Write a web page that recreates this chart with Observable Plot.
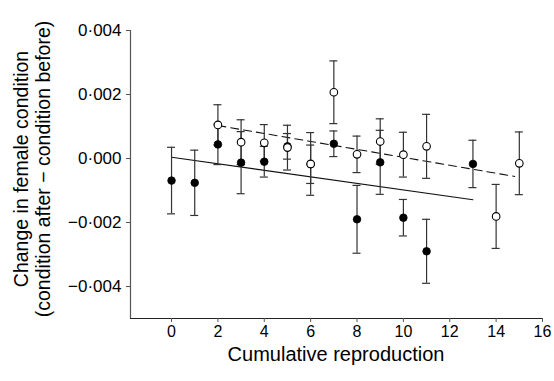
<!DOCTYPE html>
<html>
<head>
<meta charset="utf-8">
<script src="https://cdn.jsdelivr.net/npm/d3@7"></script>
<script src="https://cdn.jsdelivr.net/npm/@observablehq/plot@0.6"></script>
<style>
  html, body { margin: 0; padding: 0; background: #fff; }
  #chart svg { display: block; }
</style>
</head>
<body>
<div id="chart"></div>
<script>
// Filled circles (series 1)
const filledX  = [0, 1, 2, 3, 4, 5, 6, 7, 8, 9, 10, 11, 13];
const filledY  = [-0.00069, -0.00076, 0.00044, -0.00013, -0.00010, 0.00038, -0.00018, 0.00046, -0.00190, -0.00012, -0.00185, -0.00290, -0.00017];
const filledSE = [0.00104, 0.00102, 0.00063, 0.00097, 0.00048, 0.00040, 0.00060, 0.00040, 0.00106, 0.00100, 0.00057, 0.00100, 0.00074];

// Open circles (series 2)
const openX  = [2, 3, 4, 5, 6, 7, 8, 9, 10, 11, 14, 15];
const openY  = [0.00105, 0.00051, 0.00049, 0.00034, -0.00017, 0.00207, 0.00013, 0.00053, 0.00012, 0.00038, -0.00181, -0.00015];
const openSE = [0.00063, 0.00070, 0.00057, 0.00070, 0.00098, 0.00098, 0.00057, 0.00071, 0.00070, 0.00100, 0.00100, 0.00098];

// Regression lines (end points)
const solidX = [0, 13];
const solidY = [0.00004, -0.00129];
const dashX  = [2, 14.8];
const dashY  = [0.00103, -0.00056];

// Axes
const xTicks = [0, 2, 4, 6, 8, 10, 12, 14, 16];
const yTicks = [-0.004, -0.002, 0, 0.002, 0.004];
const xDomain = [-1.77, 16];
const yDomain = [-0.005, 0.004];
const xTitle = "Cumulative reproduction";
const yTitle1 = "Change in female condition";
const yTitle2 = "(condition after \u2212 condition before)";

const filled = filledX.map((x, i) => ({x, y: filledY[i], se: filledSE[i]}));
const open = openX.map((x, i) => ({x, y: openY[i], se: openSE[i]}));
const solid = solidX.map((x, i) => ({x, y: solidY[i]}));
const dash = dashX.map((x, i) => ({x, y: dashY[i]}));

const fmt = d => (d < 0 ? "\u2212" : "") + Math.abs(d).toFixed(3).replace(".", "\u00b7");

function errorMarks(data, color) {
  return [
    Plot.ruleX(data, {x: "x", y1: d => d.y - d.se, y2: d => d.y + d.se, stroke: color, strokeWidth: 1.2}),
    Plot.ruleY(data, {y: d => d.y + d.se, x1: "x", x2: "x", insetLeft: -4, insetRight: -4, stroke: color, strokeWidth: 1.2}),
    Plot.ruleY(data, {y: d => d.y - d.se, x1: "x", x2: "x", insetLeft: -4, insetRight: -4, stroke: color, strokeWidth: 1.2})
  ];
}

const chart = Plot.plot({
  width: 554,
  height: 381,
  marginLeft: 130,
  marginRight: 12,
  marginTop: 30,
  marginBottom: 63,
  style: {fontFamily: "'Liberation Sans', Arial, Helvetica, sans-serif", fontSize: "16px", background: "#fff", color: "#000"},
  x: {domain: xDomain, ticks: xTicks, label: null},
  y: {domain: yDomain, ticks: yTicks, label: null},
  marks: [
    Plot.ruleX([xDomain[0]], {y1: yDomain[0], y2: yDomain[1], stroke: "#555", strokeWidth: 1.2}),
    Plot.ruleY([yDomain[0]], {x1: xDomain[0], x2: xDomain[1], stroke: "#222", strokeWidth: 1.2}),
    Plot.axisX({ticks: xTicks, tickSize: 4, tickPadding: 3, tickFormat: d => String(d), stroke: "#555", fontSize: 16, label: null}),
    Plot.axisY({ticks: yTicks, tickSize: 4, tickPadding: 5, tickFormat: fmt, stroke: "#555", fontSize: 17, label: null}),
    Plot.line(solid, {x: "x", y: "y", stroke: "#111", strokeWidth: 1.1}),
    Plot.line(dash, {x: "x", y: "y", stroke: "#111", strokeWidth: 1.1, strokeDasharray: "8,5"}),
    ...errorMarks(filled, "#333"),
    ...errorMarks(open, "#333"),
    Plot.dot(filled, {x: "x", y: "y", r: 3.8, fill: "#000", stroke: "#000", strokeWidth: 0.8}),
    Plot.dot(open, {x: "x", y: "y", r: 3.8, fill: "#fff", stroke: "#000", strokeWidth: 1.1})
  ]
});

document.getElementById("chart").appendChild(chart);

const svg = d3.select(chart);
const ff = "'Liberation Sans', Arial, Helvetica, sans-serif";
svg.append("text")
  .attr("x", 336).attr("y", 361)
  .attr("text-anchor", "middle")
  .attr("font-family", ff).attr("font-size", 20).attr("fill", "#000")
  .text(xTitle);
const yt = svg.append("text")
  .attr("transform", "translate(0,169) rotate(-90)")
  .attr("text-anchor", "middle")
  .attr("font-family", ff).attr("font-size", 19.5).attr("fill", "#000");
yt.append("tspan").attr("x", 0).attr("y", 28).text(yTitle1);
yt.append("tspan").attr("x", 0).attr("y", 50).text(yTitle2);
</script>
</body>
</html>
